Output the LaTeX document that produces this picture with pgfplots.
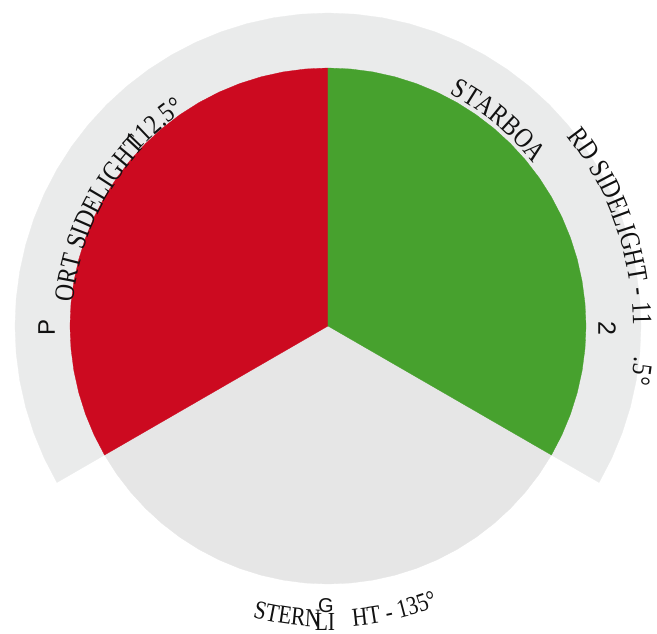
\documentclass[border=0pt]{standalone}
\usepackage{pgfplots}
\pgfplotsset{compat=1.18}
\usepgfplotslibrary{polar}
\usetikzlibrary{decorations.text}
\usepackage{fontspec}
\setmainfont{Liberation Serif}
\newfontfamily\lblfont[FakeStretch=0.84]{Liberation Serif}
\newfontfamily\botfont[FakeStretch=0.83]{Liberation Serif}
\newfontfamily\sansfont{Liberation Sans}
\definecolor{bandgrey}{HTML}{EAEBEB}
\definecolor{sterngrey}{HTML}{E6E6E6}
\definecolor{portred}{HTML}{CC0A20}
\definecolor{stbdgreen}{HTML}{47A12E}
\definecolor{txt}{HTML}{111111}
\begin{document}
\begin{tikzpicture}[x=1pt,y=1pt]
\begin{polaraxis}[
  at={(0,0)}, anchor=center,
  scale only axis, width=626pt, height=626pt,
  xmin=0, xmax=360, ymin=0, ymax=313,
  hide axis, clip=false,
]
% outer band (sector of lights' visibility), radius 313, from -30 to 210 deg
\addplot[fill=bandgrey, draw=bandgrey, line width=0.3pt] coordinates {
(0,0) (-30,313) (-25,313) (-20,313) (-15,313) (-10,313) (-5,313) (0,313) (5,313) (10,313) (15,313)
(20,313) (25,313) (30,313) (35,313) (40,313) (45,313) (50,313) (55,313) (60,313) (65,313)
(70,313) (75,313) (80,313) (85,313) (90,313) (95,313) (100,313) (105,313) (110,313) (115,313)
(120,313) (125,313) (130,313) (135,313) (140,313) (145,313) (150,313) (155,313) (160,313) (165,313)
(170,313) (175,313) (180,313) (185,313) (190,313) (195,313) (200,313) (205,313) (210,313) (0,0)};
% stern light sector
\addplot[fill=sterngrey, draw=sterngrey, line width=0.3pt] coordinates {
(0,0) (210,258) (215,258) (220,258) (225,258) (230,258) (235,258) (240,258) (245,258) (250,258)
(255,258) (260,258) (265,258) (270,258) (275,258) (280,258) (285,258) (290,258) (295,258) (300,258)
(305,258) (310,258) (315,258) (320,258) (325,258) (330,258) (0,0)};
% port sidelight sector
\addplot[fill=portred, draw=portred, line width=0.3pt] coordinates {
(0,0) (90,258) (95,258) (100,258) (105,258) (110,258) (115,258) (120,258) (125,258) (130,258)
(135,258) (140,258) (145,258) (150,258) (155,258) (160,258) (165,258) (170,258) (175,258) (180,258)
(185,258) (190,258) (195,258) (200,258) (205,258) (210,258) (0,0)};
% starboard sidelight sector
\addplot[fill=stbdgreen, draw=stbdgreen, line width=0.3pt] coordinates {
(0,0) (-30,258) (-25,258) (-20,258) (-15,258) (-10,258) (-5,258) (0,258) (5,258) (10,258)
(15,258) (20,258) (25,258) (30,258) (35,258) (40,258) (45,258) (50,258) (55,258) (60,258)
(65,258) (70,258) (75,258) (80,258) (85,258) (90,258) (0,0)};
\coordinate (O) at (axis cs:0,0);
\end{polaraxis}
\pgfresetboundingbox
\begin{scope}[shift={(O)}]
\useasboundingbox (-328pt,-307pt) rectangle (329pt,326pt);
\def\lblsize{\fontsize{28}{30}\selectfont}
\def\botsize{\fontsize{26}{28}\selectfont}
% port label
\node[txt, rotate=90, font=\sansfont\fontsize{24}{26}\selectfont, inner sep=0pt] at (-281.5pt,-1pt) {P};
\path[decorate, decoration={text along path, text color=txt, text={|\lblfont\lblsize|ORT SIDELIGHT}}]
  (174.7:256pt) arc[start angle=174.7, end angle=100, radius=256pt];
\path[decorate, decoration={text along path, text color=txt, text={|\lblfont\lblsize|112.5°}}]
  (137.5:258pt) arc[start angle=137.5, end angle=100, radius=258pt];
% starboard label
\path[decorate, decoration={text along path, text color=txt, text={|\lblfont\lblsize|STARBOA}}]
  (62.3:262pt) arc[start angle=62.3, end angle=20, radius=262pt];
\path[decorate, decoration={text along path, text color=txt, text={|\lblfont\lblsize|RD SIDELIGHT - 11}}]
  (38.5:305pt) arc[start angle=38.5, end angle=-25, radius=305pt];
\path[decorate, decoration={text along path, text color=txt, text={|\lblfont\lblsize|.5°}}]
  (-5.7:308pt) arc[start angle=-5.7, end angle=-30, radius=308pt];
\node[txt, rotate=-90, font=\sansfont\fontsize{25}{26}\selectfont, inner sep=0pt] at (279pt,-2.5pt) {2};
% stern label
\path[decorate, decoration={text along path, text color=txt, text={|\botfont\botsize|STERN}}]
  (255.5:301pt) arc[start angle=255.5, end angle=300, radius=301pt];
\path[decorate, decoration={text along path, text color=txt, text={|\botfont\botsize|HT - 135°}}]
  (274.8:301pt) arc[start angle=274.8, end angle=320, radius=301pt];
\node[txt, font=\sansfont\fontsize{20}{21}\selectfont, inner sep=0pt] at (-2pt,-280pt) {G};
\node[txt, anchor=north, font=\botfont\botsize, inner sep=0pt] at (-3pt,-287pt) {LI};
\end{scope}
\end{tikzpicture}
\end{document}
